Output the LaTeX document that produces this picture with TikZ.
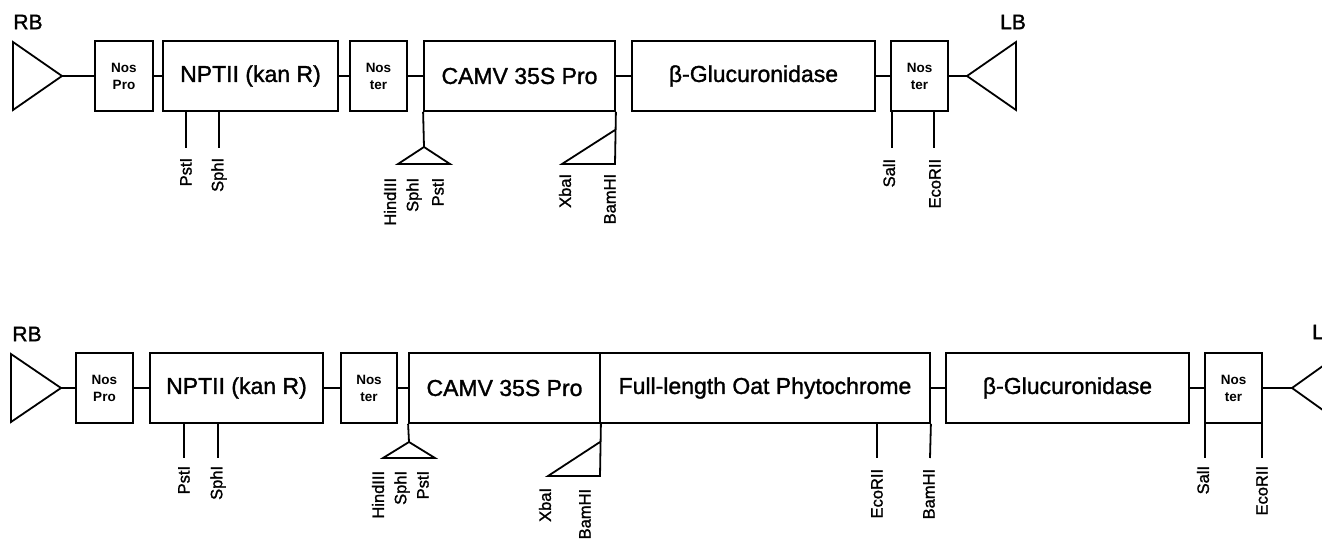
\documentclass[tikz,border=0pt]{standalone}
\usepackage{fontspec}
\setmainfont{Liberation Sans}
\newfontfamily\heavyfont{Liberation Sans}[FakeBold=1.4]
\begin{document}
\begin{tikzpicture}[x=1pt,y=-1pt,line width=1.8pt,line join=miter,
  box/.style={draw,rectangle,inner sep=0pt,minimum height=70pt,font=\heavyfont\fontsize{23}{26}\selectfont},
  small/.style={box,font=\bfseries\fontsize{13.5}{17}\selectfont,align=center},
  site/.style={rotate=90,anchor=east,inner sep=0pt,font=\heavyfont\fontsize{16.5}{18}\selectfont},
  bord/.style={inner sep=0pt,font=\heavyfont\fontsize{21}{24}\selectfont}]
\useasboundingbox (0,0) rectangle (1322,538);
\clip (0,0) rectangle (1322,538);
% ---------------- top row ----------------
\node[bord] (rbA) at (28,22) {RB};
\coordinate (rbtipA) at (62,76);
\draw (13,42) -- (rbtipA) -- (13,110) -- cycle;
\node[small,minimum width=58pt] (nproA) at (124,76) {Nos\\Pro};
\node[box,minimum width=175pt] (nptA) at (250.5,76) {NPTII (kan R)};
\node[small,minimum width=57pt] (ntA) at (378.5,76) {Nos\\ter};
\node[box,minimum width=191pt] (camvA) at (519.5,76) {CAMV 35S Pro};
\node[box,minimum width=243pt] (gusA) at (753.5,76) {β-Glucuronidase};
\node[small,minimum width=57pt] (nt2A) at (919.5,76) {Nos\\ter};
\coordinate (lbtipA) at (967,76);
\draw (lbtipA) -- (1016,42) -- (1016,110) -- cycle;
\node[bord] (lbA) at (1013,22) {LB};
\draw (rbtipA) -- (nproA);
\draw (nproA) -- (nptA);
\draw (nptA) -- (ntA);
\draw (ntA) -- (camvA);
\draw (camvA) -- (gusA);
\draw (gusA) -- (nt2A);
\draw (nt2A) -- (lbtipA);
% sites
\coordinate (a1) at (186,111); \coordinate (a1e) at (186,148);
\coordinate (a2) at (219,111); \coordinate (a2e) at (219,148);
\draw (a1) -- (a1e); \draw (a2) -- (a2e);
\node[site] (a1l) at (186,157) {PstI};
\node[site] (a2l) at (219,157) {SphI};
\coordinate (a3) at (424,147);
\draw (camvA.south west) -- (a3);
\draw (a3) -- (398,164) -- (450,164) -- cycle;
\node[site] (a3l) at (390,177) {HindIII};
\node[site] (a4l) at (414,177) {SphI};
\node[site] (a5l) at (438,177) {PstI};
\draw (camvA.south east) -- (615,164) -- (562,164) -- (615,130);
\node[site] (a6l) at (565,173) {XbaI};
\node[site] (a7l) at (610,173) {BamHI};
\coordinate (a8) at (892,111); \coordinate (a8e) at (892,148);
\coordinate (a9) at (934,111); \coordinate (a9e) at (934,148);
\draw (a8) -- (a8e); \draw (a9) -- (a9e);
\node[site] (a8l) at (889,158) {SalI};
\node[site] (a9l) at (935,158) {EcoRII};
% ---------------- bottom row ----------------
\node[bord] (rbB) at (27,334) {RB};
\coordinate (rbtipB) at (61,388);
\draw (11,354) -- (rbtipB) -- (11,422) -- cycle;
\node[small,minimum width=57pt] (nproB) at (104.5,388) {Nos\\Pro};
\node[box,minimum width=173pt] (nptB) at (236.5,388) {NPTII (kan R)};
\node[small,minimum width=56pt] (ntB) at (369,388) {Nos\\ter};
\node[box,minimum width=191pt] (camvB) at (504.5,388) {CAMV 35S Pro};
\node[box,minimum width=330pt] (phyB) at (765,388) {Full-length Oat Phytochrome};
\node[box,minimum width=243pt] (gusB) at (1067.5,388) {β-Glucuronidase};
\node[small,minimum width=57pt] (nt2B) at (1233.5,388) {Nos\\ter};
\coordinate (lbtipB) at (1292,388);
\draw (lbtipB) -- (1341,353) -- (1341,423) -- cycle;
\node[bord] (lbB) at (1325,332) {LB};
\draw (rbtipB) -- (nproB);
\draw (nproB) -- (nptB);
\draw (nptB) -- (ntB);
\draw (ntB) -- (camvB);
\draw (phyB) -- (gusB);
\draw (gusB) -- (nt2B);
\draw (nt2B) -- (lbtipB);
% sites
\coordinate (b1) at (184,423); \coordinate (b1e) at (184,458);
\coordinate (b2) at (218,423); \coordinate (b2e) at (218,458);
\draw (b1) -- (b1e); \draw (b2) -- (b2e);
\node[site] (b1l) at (184,465) {PstI};
\node[site] (b2l) at (218,465) {SphI};
\coordinate (b3) at (409,442);
\draw (camvB.south west) -- (b3);
\draw (b3) -- (383,458) -- (435,458) -- cycle;
\node[site] (b3l) at (378,470) {HindIII};
\node[site] (b4l) at (402,470) {SphI};
\node[site] (b5l) at (423,470) {PstI};
\draw (camvB.south east) -- (600,476) -- (548,476) -- (600,442);
\node[site] (b6l) at (545,487) {XbaI};
\node[site] (b7l) at (585,488) {BamHI};
\coordinate (b8) at (877,423); \coordinate (b8e) at (877,458);
\draw (b8) -- (b8e);
\node[site] (b8l) at (877,468) {EcoRII};
\draw (phyB.south east) -- (930,458);
\node[site] (b9l) at (929,468) {BamHI};
\coordinate (b10) at (1205,423); \coordinate (b10e) at (1205,458);
\coordinate (b11) at (1262,423); \coordinate (b11e) at (1262,458);
\draw (b10) -- (b10e); \draw (b11) -- (b11e);
\node[site] (b10l) at (1203,465) {SalI};
\node[site] (b11l) at (1262,465) {EcoRII};
\end{tikzpicture}
\end{document}
